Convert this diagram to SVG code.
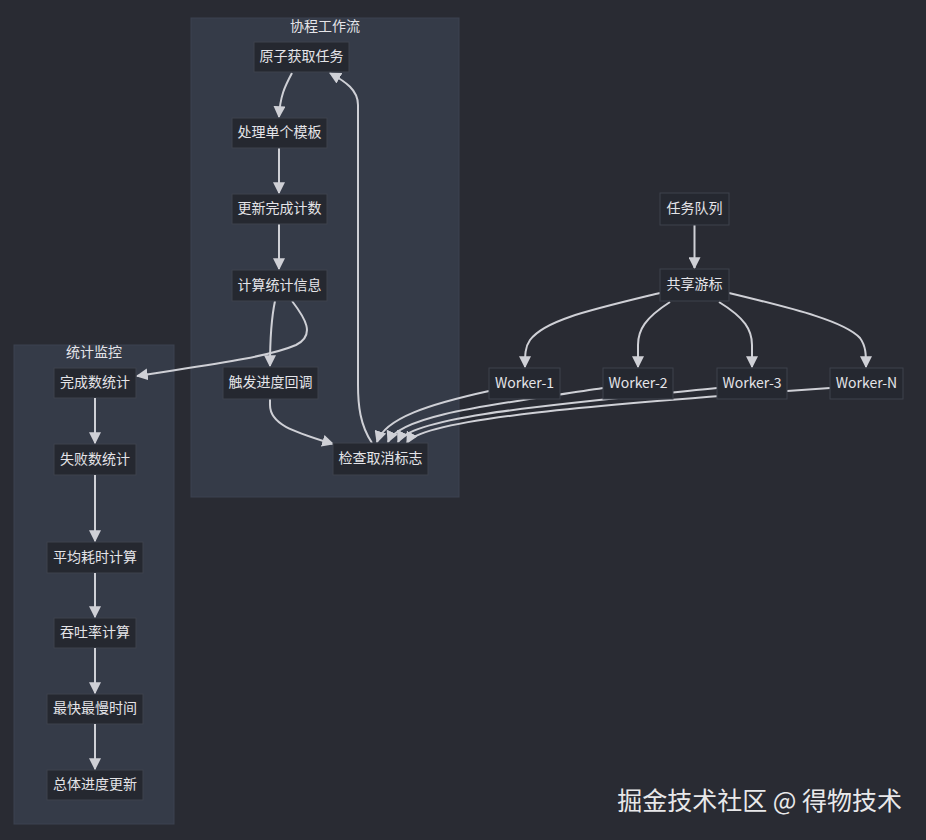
<svg xmlns="http://www.w3.org/2000/svg" width="926" height="840" viewBox="0 0 926 840">
<style>
text{font-family:"Noto Sans CJK SC","Liberation Sans",sans-serif;fill:#e4e4e8;font-size:14px;text-anchor:middle}
.cl{fill:#353b48;stroke:#3d4350;stroke-width:1}
.nd rect{fill:#252830;stroke:#3e424c;stroke-width:1}
.e{fill:none;stroke:#cfd0d6;stroke-width:2}
.wm{font-size:25px;text-anchor:end;fill:#e8e8ea}
</style>
<defs>
<marker id="ah" viewBox="0 0 10 10" refX="9" refY="5" markerWidth="12" markerHeight="12" markerUnits="userSpaceOnUse" orient="auto">
<path d="M0,0 L10,5 L0,10 z" fill="#cfd0d6"/>
</marker>
</defs>
<rect width="926" height="840" fill="#292b33"/>
<g id="cluster-coroutine">
<rect class="cl" x="191" y="18" width="268" height="479"/>
<text x="325" y="31">协程工作流</text>
</g>
<g id="cluster-stats">
<rect class="cl" x="14" y="345" width="160" height="479"/>
<text x="94" y="357">统计监控</text>
</g>
<g id="edges">
<path class="e" marker-end="url(#ah)" d="M292,73 C285,86 280,96 279,117"/>
<path class="e" marker-end="url(#ah)" d="M279,148 L279,193"/>
<path class="e" marker-end="url(#ah)" d="M279,224 L279,269"/>
<path class="e" marker-end="url(#ah)" d="M275,301 C271,320 270,340 270,366"/>
<path class="e" marker-end="url(#ah)" d="M292,301 C305,318 316,335 296,345 C266,358 200,366 137,376"/>
<path class="e" marker-end="url(#ah)" d="M270,399 L270,405 C270,425 295,432 333,444"/>
<path class="e" marker-end="url(#ah)" d="M372,443 C360,425 358,405 358,385 L358,105 C358,90 346,82 330,73"/>
<path class="e" marker-end="url(#ah)" d="M694.5,225 L694.5,268"/>
<path class="e" marker-end="url(#ah)" d="M660,293 C590,310 545,320 530,340 C525,347 525,355 525,367"/>
<path class="e" marker-end="url(#ah)" d="M670,302 C645,318 638,330 638,345 L638,367"/>
<path class="e" marker-end="url(#ah)" d="M719,302 C745,318 752,330 752,345 L752,367"/>
<path class="e" marker-end="url(#ah)" d="M729,293 C800,310 845,322 860,338 C866,346 866,355 866,367"/>
<path class="e" marker-end="url(#ah)" d="M489,391 C430,404 385,418 377,442"/>
<path class="e" marker-end="url(#ah)" d="M603,388 C500,404 400,414 388,442"/>
<path class="e" marker-end="url(#ah)" d="M717,388 C560,404 410,416 398,442"/>
<path class="e" marker-end="url(#ah)" d="M830,388 C600,404 420,419 407,443"/>
</g>
<g id="n-atomic" class="nd"><rect x="254" y="42" width="95" height="30"/><text x="301.5" y="61">原子获取任务</text></g>
<g id="n-process" class="nd"><rect x="232" y="118" width="95" height="30"/><text x="279.5" y="137">处理单个模板</text></g>
<g id="n-update" class="nd"><rect x="232" y="194" width="95" height="30"/><text x="279.5" y="213">更新完成计数</text></g>
<g id="n-calc" class="nd"><rect x="232" y="270" width="95" height="31"/><text x="279.5" y="289.5">计算统计信息</text></g>
<g id="n-callback" class="nd"><rect x="223" y="367" width="95" height="32"/><text x="270.5" y="387">触发进度回调</text></g>
<g id="n-cancel" class="nd"><rect x="333" y="443" width="95" height="32"/><text x="380.5" y="463">检查取消标志</text></g>
<g id="n-queue" class="nd"><rect x="660" y="193" width="69" height="32"/><text x="694.5" y="213">任务队列</text></g>
<g id="n-cursor" class="nd"><rect x="660" y="269" width="69" height="32"/><text x="694.5" y="289">共享游标</text></g>
<g id="n-w1" class="nd"><rect x="489" y="368" width="71" height="31"/><text x="524.5" y="388">Worker-1</text></g>
<g id="n-w2" class="nd"><rect x="603" y="368" width="70" height="31"/><text x="638" y="388">Worker-2</text></g>
<g id="n-w3" class="nd"><rect x="717" y="368" width="70" height="31"/><text x="752" y="388">Worker-3</text></g>
<g id="n-wn" class="nd"><rect x="830" y="368" width="73" height="31"/><text x="866.5" y="388">Worker-N</text></g>
<g id="n-done" class="nd"><rect x="54" y="368" width="82" height="30"/><text x="95" y="387">完成数统计</text></g>
<g id="n-fail" class="nd"><rect x="54" y="444" width="82" height="31"/><text x="95" y="463.5">失败数统计</text></g>
<g id="n-avg" class="nd"><rect x="47" y="542" width="96" height="31"/><text x="95" y="561.5">平均耗时计算</text></g>
<g id="n-tput" class="nd"><rect x="54" y="618" width="82" height="30"/><text x="95" y="637">吞吐率计算</text></g>
<g id="n-minmax" class="nd"><rect x="47" y="694" width="96" height="30"/><text x="95" y="713">最快最慢时间</text></g>
<g id="n-total" class="nd"><rect x="47" y="770" width="96" height="30"/><text x="95" y="789">总体进度更新</text></g>
<g id="edges-stats">
<path class="e" marker-end="url(#ah)" d="M95,398 L95,443"/>
<path class="e" marker-end="url(#ah)" d="M95,475 L95,541"/>
<path class="e" marker-end="url(#ah)" d="M95,573 L95,617"/>
<path class="e" marker-end="url(#ah)" d="M95,648 L95,693"/>
<path class="e" marker-end="url(#ah)" d="M95,724 L95,769"/>
</g>
<text class="wm" x="902" y="810">掘金技术社区 @ 得物技术</text>
</svg>
